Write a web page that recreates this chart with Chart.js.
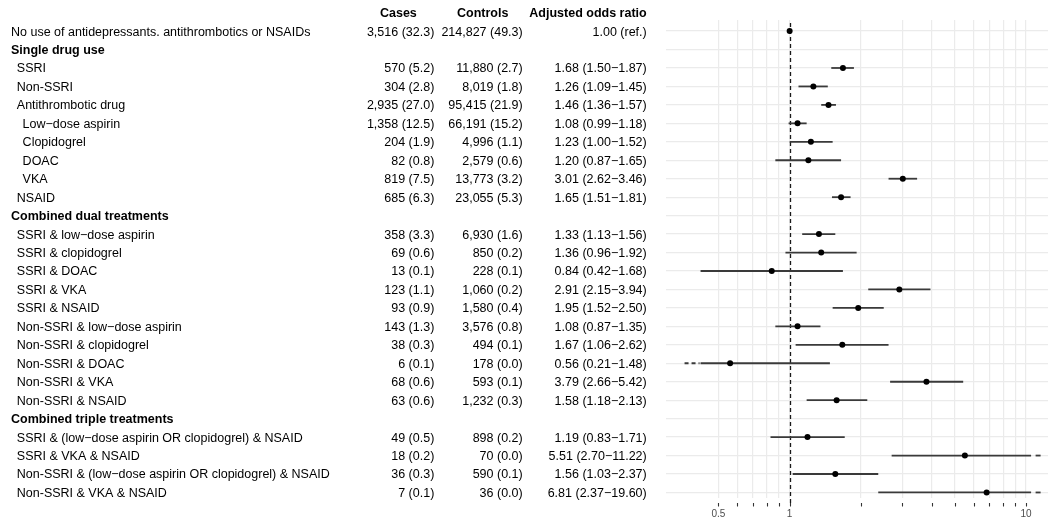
<!DOCTYPE html>
<html><head><meta charset="utf-8">
<script src="https://cdn.jsdelivr.net/npm/chart.js@4/dist/chart.umd.min.js"></script>
<style>html,body{margin:0;padding:0;background:#fff}#c{display:block}</style>
</head><body>
<canvas id="c" width="1051" height="520"></canvas>
<script>
const columnHeaders = ['Cases', 'Controls', 'Adjusted odds ratio'];
const rowLabels = [
  'No use of antidepressants. antithrombotics or NSAIDs',
  'Single drug use',
  'SSRI',
  'Non-SSRI',
  'Antithrombotic drug',
  'Low\u2212dose aspirin',
  'Clopidogrel',
  'DOAC',
  'VKA',
  'NSAID',
  'Combined dual treatments',
  'SSRI & low\u2212dose aspirin',
  'SSRI & clopidogrel',
  'SSRI & DOAC',
  'SSRI & VKA',
  'SSRI & NSAID',
  'Non-SSRI & low\u2212dose aspirin',
  'Non-SSRI & clopidogrel',
  'Non-SSRI & DOAC',
  'Non-SSRI & VKA',
  'Non-SSRI & NSAID',
  'Combined triple treatments',
  'SSRI & (low\u2212dose aspirin OR clopidogrel) & NSAID',
  'SSRI & VKA & NSAID',
  'Non-SSRI & (low\u2212dose aspirin OR clopidogrel) & NSAID',
  'Non-SSRI & VKA & NSAID'
];
const rowLevels = [0,0,1,1,1,2,2,2,2,1,0,1,1,1,1,1,1,1,1,1,1,0,1,1,1,1];
const sectionRows = [1, 10, 21];
const cases = ['3,516 (32.3)','', '570 (5.2)','304 (2.8)','2,935 (27.0)','1,358 (12.5)','204 (1.9)','82 (0.8)','819 (7.5)','685 (6.3)','',
  '358 (3.3)','69 (0.6)','13 (0.1)','123 (1.1)','93 (0.9)','143 (1.3)','38 (0.3)','6 (0.1)','68 (0.6)','63 (0.6)','',
  '49 (0.5)','18 (0.2)','36 (0.3)','7 (0.1)'];
const controls = ['214,827 (49.3)','', '11,880 (2.7)','8,019 (1.8)','95,415 (21.9)','66,191 (15.2)','4,996 (1.1)','2,579 (0.6)','13,773 (3.2)','23,055 (5.3)','',
  '6,930 (1.6)','850 (0.2)','228 (0.1)','1,060 (0.2)','1,580 (0.4)','3,576 (0.8)','494 (0.1)','178 (0.0)','593 (0.1)','1,232 (0.3)','',
  '898 (0.2)','70 (0.0)','590 (0.1)','36 (0.0)'];
const oddsRatio = [1.00,null,1.68,1.26,1.46,1.08,1.23,1.20,3.01,1.65,null,
  1.33,1.36,0.84,2.91,1.95,1.08,1.67,0.56,3.79,1.58,null,
  1.19,5.51,1.56,6.81];
const ciLower = [null,null,1.50,1.09,1.36,0.99,1.00,0.87,2.62,1.51,null,
  1.13,0.96,0.42,2.15,1.52,0.87,1.06,0.21,2.66,1.18,null,
  0.83,2.70,1.03,2.37];
const ciUpper = [null,null,1.87,1.45,1.57,1.18,1.52,1.65,3.46,1.81,null,
  1.56,1.92,1.68,3.94,2.50,1.35,2.62,1.48,5.42,2.13,null,
  1.71,11.22,2.37,19.60];
const xTicks = [0.5,0.6,0.7,0.8,0.9,1,2,3,4,5,6,7,8,9,10];
const xTickLabels = ['0.5','','','','','1','','','','','','','','','10'];

const FONT = '"Liberation Sans", Arial, Helvetica, sans-serif';
const CLIP_LOW = 0.42, CLIP_HIGH = 10.5;
const PX_ONE = 788.5, PX_DECADE = 237.5;

function fmtCI(i){
  if (oddsRatio[i] === null) return '';
  if (ciLower[i] === null) return oddsRatio[i].toFixed(2) + ' (ref.)';
  return oddsRatio[i].toFixed(2) + ' (' + ciLower[i].toFixed(2) + '\u2212' + ciUpper[i].toFixed(2) + ')';
}

const tablePlugin = {
  id: 'table',
  afterDraw(chart){
    const ctx = chart.ctx, y = chart.scales.y;
    ctx.save();
    ctx.fillStyle = '#000';
    ctx.textBaseline = 'middle';
    const hy = y.getPixelForValue(-1) + 1;
    ctx.font = 'bold 12.5px ' + FONT;
    ctx.textAlign = 'center';
    ctx.fillText(columnHeaders[0], 398.4, hy);
    ctx.fillText(columnHeaders[1], 482.7, hy);
    ctx.textAlign = 'right';
    ctx.fillText(columnHeaders[2], 646.7, hy);
    rowLabels.forEach((lab, i) => {
      const py = y.getPixelForValue(i) + 1;
      const bold = sectionRows.includes(i);
      ctx.font = (bold ? 'bold ' : '') + '12.5px ' + FONT;
      ctx.textAlign = 'left';
      ctx.fillText(lab, 11 + rowLevels[i] * 5.8, py);
      ctx.font = '12.5px ' + FONT;
      ctx.textAlign = 'right';
      if (cases[i]) ctx.fillText(cases[i], 434.3, py);
      if (controls[i]) ctx.fillText(controls[i], 522.7, py);
      const t = fmtCI(i);
      if (t) ctx.fillText(t, 646.7, py);
    });
    const x = chart.scales.x, b = chart.chartArea.bottom;
    ctx.strokeStyle = '#333';
    ctx.lineWidth = 1.1;
    x.ticks.forEach(t => {
      const px = Math.round(x.getPixelForValue(t.value)) + 0.5;
      ctx.beginPath(); ctx.moveTo(px, b + 5); ctx.lineTo(px, b + 8.5); ctx.stroke();
    });
    ctx.restore();
  }
};

const ciPlugin = {
  id: 'ci',
  beforeDatasetsDraw(chart){
    const ctx = chart.ctx, x = chart.scales.x, y = chart.scales.y, a = chart.chartArea;
    ctx.save();
    const x1 = Math.round(x.getPixelForValue(1)) + 0.5;
    ctx.strokeStyle = '#1a1a1a'; ctx.lineWidth = 1.3; ctx.setLineDash([4, 3]);
    ctx.beginPath(); ctx.moveTo(x1, a.top + 3); ctx.lineTo(x1, a.bottom + 8); ctx.stroke();
    ctx.setLineDash([]);
    ctx.strokeStyle = '#3a3a3a'; ctx.lineWidth = 1.8;
    for (let i = 0; i < rowLabels.length; i++){
      const lo = ciLower[i], hi = ciUpper[i];
      if (lo === null) continue;
      const py = y.getPixelForValue(i);
      const pl = x.getPixelForValue(Math.max(lo, CLIP_LOW));
      const ph = x.getPixelForValue(Math.min(hi, CLIP_HIGH));
      ctx.beginPath(); ctx.moveTo(pl, py); ctx.lineTo(ph, py); ctx.stroke();
      if (lo < CLIP_LOW){
        ctx.setLineDash([4, 3]);
        ctx.beginPath(); ctx.moveTo(pl - 16, py); ctx.lineTo(pl - 1, py); ctx.stroke();
        ctx.setLineDash([]);
      }
      if (hi > CLIP_HIGH){
        ctx.beginPath(); ctx.moveTo(ph + 4.5, py); ctx.lineTo(ph + 9.5, py); ctx.stroke();
      }
    }
    ctx.restore();
  }
};

const points = [];
oddsRatio.forEach((v, i) => { if (v !== null) points.push({x: v, y: i}); });

const chart = new Chart(document.getElementById('c'), {
  type: 'scatter',
  data: { datasets: [{
    data: points,
    pointRadius: 3,
    pointHoverRadius: 3,
    pointBackgroundColor: '#000',
    pointBorderWidth: 0,
    borderColor: '#000'
  }]},
  options: {
    responsive: false,
    animation: false,
    devicePixelRatio: 1,
    layout: { padding: { left: 666, top: 20, right: 0, bottom: 0 } },
    plugins: { legend: { display: false }, tooltip: { enabled: false } },
    scales: {
      x: {
        type: 'logarithmic',
        position: 'bottom',
        min: 0.3046,
        max: 12.77,
        afterBuildTicks: s => { s.ticks = xTicks.map(v => ({value: v})); },
        afterFit: s => { s.height = 22; },
        grid: { color: '#ebebeb', lineWidth: 1.2, drawTicks: false },
        border: { display: false },
        ticks: {
          autoSkip: false, maxRotation: 0, minRotation: 0,
          color: '#4d4d4d', font: { size: 10, family: FONT }, padding: 10,
          callback: (v, idx) => xTickLabels[idx]
        }
      },
      y: {
        type: 'linear',
        reverse: true,
        min: -0.6,
        max: 25.3,
        afterBuildTicks: s => { s.ticks = rowLabels.map((_, i) => ({value: i})); },
        afterFit: s => { s.width = 0; },
        grid: { color: '#ebebeb', lineWidth: 1.2, drawTicks: false },
        border: { display: false },
        ticks: { display: false }
      }
    }
  },
  plugins: [ciPlugin, tablePlugin]
});

// match the reference's log mapping: value 1 at PX_ONE, one decade = PX_DECADE px
const area = chart.chartArea;
chart.options.scales.x.min = Math.pow(10, -(PX_ONE - area.left) / PX_DECADE);
chart.options.scales.x.max = Math.pow(10, (area.right - PX_ONE) / PX_DECADE);
chart.update();
</script>
</body></html>
